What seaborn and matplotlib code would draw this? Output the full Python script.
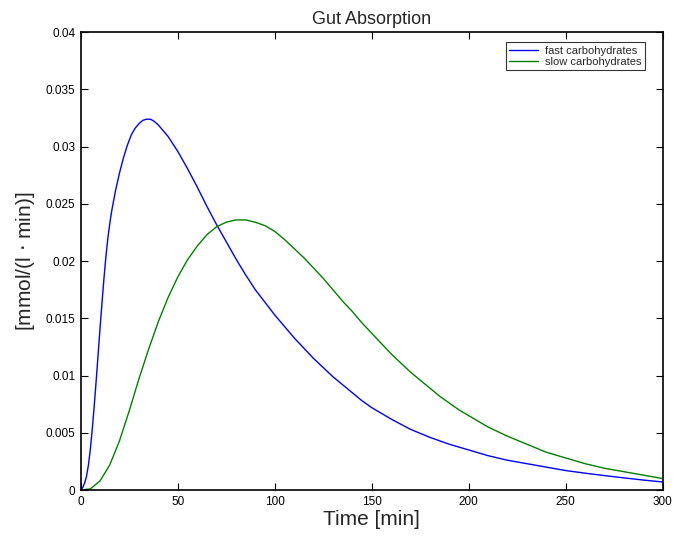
import matplotlib
matplotlib.use("Agg")
import matplotlib.pyplot as plt
from matplotlib.ticker import FuncFormatter, MultipleLocator
import pandas as pd
import seaborn as sns

# Fast carbohydrates: sample times [min] and absorption rate [mmol/(l*min)]
fast_time = [0, 1, 2, 3, 4, 5, 6, 7, 8, 9, 10, 11, 12, 13, 14, 15, 16,
             18, 20, 22, 24, 26, 28, 30, 32, 34, 36, 38, 40,
             45, 50, 55, 60, 65, 70, 75, 80, 85, 90, 95, 100, 105, 110,
             115, 120, 125, 130, 135, 140, 145, 150, 160, 170, 180, 190,
             200, 210, 220, 230, 240, 250, 260, 270, 280, 290, 300]
fast_carbs = [0, 0.0002, 0.0006, 0.0012, 0.0022, 0.0036, 0.0054, 0.0074,
              0.0096, 0.0119, 0.0142, 0.0164, 0.0185, 0.0204, 0.0220,
              0.0233, 0.0244,
              0.0262, 0.0277, 0.0290, 0.0301, 0.0310, 0.0316, 0.0320,
              0.0323, 0.0324, 0.0324, 0.0322, 0.0319,
              0.0309, 0.0296, 0.0281, 0.0265, 0.0248, 0.0232, 0.0217,
              0.0202, 0.0188, 0.0175, 0.0164, 0.0153, 0.0143, 0.0133,
              0.0124, 0.0115, 0.0107, 0.0099, 0.0092, 0.0085, 0.0078,
              0.0072, 0.0062, 0.0053, 0.0046, 0.0040,
              0.0035, 0.0030, 0.0026, 0.0023, 0.0020, 0.0017, 0.00147,
              0.00126, 0.00106, 0.00087, 0.0007]

# Slow carbohydrates: sample times [min] and absorption rate [mmol/(l*min)]
slow_time = [0, 5, 10, 15, 20, 25, 30, 35, 40, 45, 50, 55, 60, 65, 70, 75,
             80, 85, 90, 95, 100, 105, 110, 115, 120, 125, 130, 135, 140,
             145, 150, 155, 160, 165, 170, 175, 180, 185, 190, 195, 200,
             210, 220, 230, 240, 250, 260, 270, 280, 290, 300]
slow_carbs = [0, 0.0001, 0.0008, 0.0022, 0.0043, 0.0069, 0.0097, 0.0123,
              0.0147, 0.0168, 0.0186, 0.0201, 0.0213, 0.0223, 0.0230,
              0.0234, 0.0236, 0.0236, 0.0234, 0.0231, 0.0226, 0.0219,
              0.0211, 0.0203, 0.0194, 0.0185, 0.0175, 0.0165, 0.0156,
              0.0146, 0.0137, 0.0128, 0.0119, 0.0111, 0.0103, 0.0096,
              0.0089, 0.0082, 0.0076, 0.0070, 0.0065,
              0.0055, 0.0047, 0.0040, 0.0033, 0.0028, 0.0023, 0.0019,
              0.0016, 0.0013, 0.0010]

series_names = ["fast carbohydrates", "slow carbohydrates"]
series_colors = {"fast carbohydrates": "#0000ff", "slow carbohydrates": "#008000"}

df = pd.concat([
    pd.DataFrame({"t": fast_time, "rate": fast_carbs, "meal": series_names[0]}),
    pd.DataFrame({"t": slow_time, "rate": slow_carbs, "meal": series_names[1]}),
], ignore_index=True)

sns.set_style("ticks")
plt.rcParams["font.family"] = ["Liberation Sans", "DejaVu Sans"]
plt.rcParams["xtick.direction"] = "in"
plt.rcParams["ytick.direction"] = "in"

fig = plt.figure(figsize=(6.73, 5.37), dpi=100)
ax = fig.add_axes([0.1199, 0.0875, 0.8648, 0.8525])

sns.lineplot(data=df, x="t", y="rate", hue="meal", palette=series_colors,
             linewidth=1.0, ax=ax, sort=False, estimator=None)

ax.set_xlim(0, 300)
ax.set_ylim(0, 0.04)
ax.xaxis.set_major_locator(MultipleLocator(50))
ax.yaxis.set_major_locator(MultipleLocator(0.005))
ax.yaxis.set_major_formatter(FuncFormatter(lambda v, p: f"{v:g}"))
ax.tick_params(axis="both", which="both", direction="in", length=5,
               width=0.8, labelsize=8.5, top=True, right=True,
               colors="black", pad=4)
for side in ax.spines.values():
    side.set_visible(True)
    side.set_linewidth(1.2)
    side.set_color("black")

ax.set_title("Gut Absorption", fontsize=13, pad=6)
ax.set_xlabel("Time [min]", fontsize=15, labelpad=2)
ax.set_ylabel("[mmol/(l $\\cdot$ min)]", fontsize=15, labelpad=6)

leg = ax.legend(loc="upper right", bbox_to_anchor=(0.975, 0.985),
                fontsize=8, frameon=True, fancybox=False, handlelength=2.6,
                borderpad=0.3, labelspacing=0.1, handletextpad=0.6,
                borderaxespad=0.3, title=None)
leg.get_frame().set_edgecolor("black")
leg.get_frame().set_linewidth(0.8)

fig.savefig("out.png", dpi=100)
